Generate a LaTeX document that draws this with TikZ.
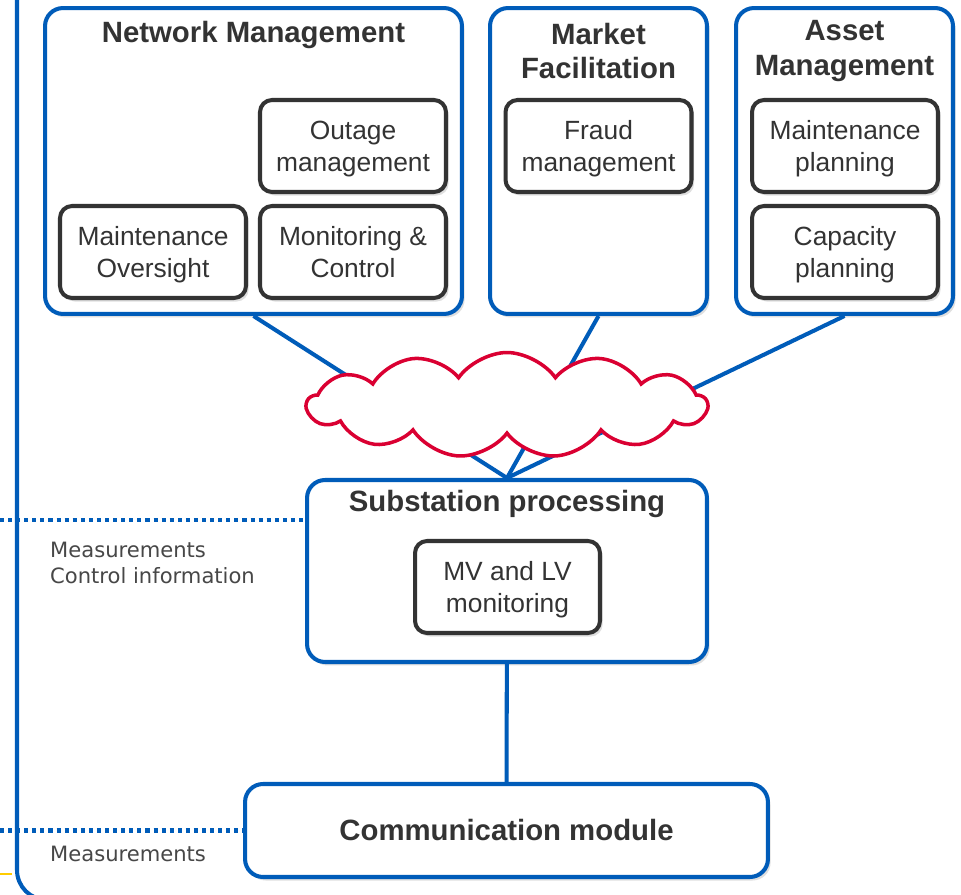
\documentclass[tikz,border=0pt]{standalone}
\usepackage{fontspec}
\setmainfont{Liberation Sans}
\newfontfamily\verdanafont{DejaVu Sans}
\usetikzlibrary{shapes.symbols,shadows}
\definecolor{azul}{RGB}{0,92,185}
\definecolor{rojo}{RGB}{218,0,50}
\definecolor{gris}{RGB}{51,51,51}
\definecolor{amarillo}{RGB}{255,204,0}
\begin{document}
\begin{tikzpicture}[x=0.02cm, y=-0.02cm,
    sombra/.style={drop shadow={opacity=0.25, shadow xshift=1.5pt, shadow yshift=-2pt}},
    bigbox/.style={draw=azul, line width=2.3pt, rounded corners=0.36cm, fill=white, sombra, inner sep=0pt},
    smallbox/.style={draw=gris, line width=2.3pt, rounded corners=0.24cm, fill=white, sombra,
        minimum width=3.72cm, minimum height=1.84cm, align=center, text=gris, text depth=0pt,
        font=\fontsize{15}{18}\selectfont},
    titletext/.style={align=center, text=gris, font=\bfseries\fontsize{16.7}{19.8}\selectfont},
    conn/.style={azul, line width=2.3pt},
    dots/.style={azul, line width=2.5pt, dash pattern=on 2.3pt off 2.3pt},
    note/.style={text=gris!90, align=left, font=\verdanafont\fontsize{12}{14.7}\selectfont}
]
    % Marco
    \useasboundingbox (0,0) rectangle (961,895);
    \fill[white] (0,0) rectangle (961,895);
    \draw[conn, rounded corners=0.6cm] (17,-10) -- (17,900) -- (100,900);
    \draw[amarillo, line width=1.6pt] (0,874) -- (12,874);

    % Cajas superiores
    \node[bigbox, minimum width=8.34cm, minimum height=6.12cm] (NM) at (253.5,161) {};
    \node[bigbox, minimum width=4.34cm, minimum height=6.12cm] (MF) at (598.5,161) {};
    \node[bigbox, minimum width=4.34cm, minimum height=6.12cm] (AM) at (844.5,161) {};

    \node[titletext] (NMtitle) at (253.5,35) {Network Management};
    \node[titletext] (MFtitle) at (598.5,51) {Market\\Facilitation};
    \node[titletext] (AMtitle) at (844.5,51) {Asset\\Management};

    % Funciones
    \node[smallbox] (outage) at (353,146) {Outage\\management};
    \node[smallbox] (oversight) at (153,252) {Maintenance\\Oversight};
    \node[smallbox] (monitoring) at (353,252) {Monitoring \&\\Control};
    \node[smallbox] (fraud) at (598.5,146) {Fraud\\management};
    \node[smallbox] (mplanning) at (845,146) {Maintenance\\planning};
    \node[smallbox] (cplanning) at (845,252) {Capacity\\planning};

    % Subestacion
    \node[bigbox, minimum width=8cm, minimum height=3.64cm] (SP) at (507,571) {};
    \node[titletext] (SPtitle) at (507,504) {Substation processing};
    \node[smallbox, minimum width=3.7cm] (mvlv) at (507.5,587) {MV and LV\\monitoring};

    \node[bigbox, minimum width=10.46cm, minimum height=1.86cm] (CM) at (506.5,830.5)
        {\color{gris}\bfseries\fontsize{16.7}{19.8}\selectfont Communication module};

    % Conexiones
    \foreach \caja in {NM,MF,AM} {
        \draw[conn] (\caja.south) -- (SP.north);
    }
    \draw[conn] (SP) -- (CM);

    % Nube
    \node[cloud, cloud puffs=13, cloud puff arc=110, cloud ignores aspect,
        minimum width=8cm, minimum height=2.1cm, draw=rojo, line width=2pt, fill=white]
        (red) at (507,405) {};

    % Enlaces punteados
    \coordinate (d1) at (0,520);
    \coordinate (d2) at (0,830.5);
    \draw[dots] (d1) -- (d1 -| SP.west);
    \draw[dots] (d2) -- (CM.west);

    \node[note, anchor=north west] (n1) at (44,536) {Measurements\\Control information};
    \node[note, anchor=north west] (n2) at (44,840) {Measurements};
\end{tikzpicture}
\end{document}
